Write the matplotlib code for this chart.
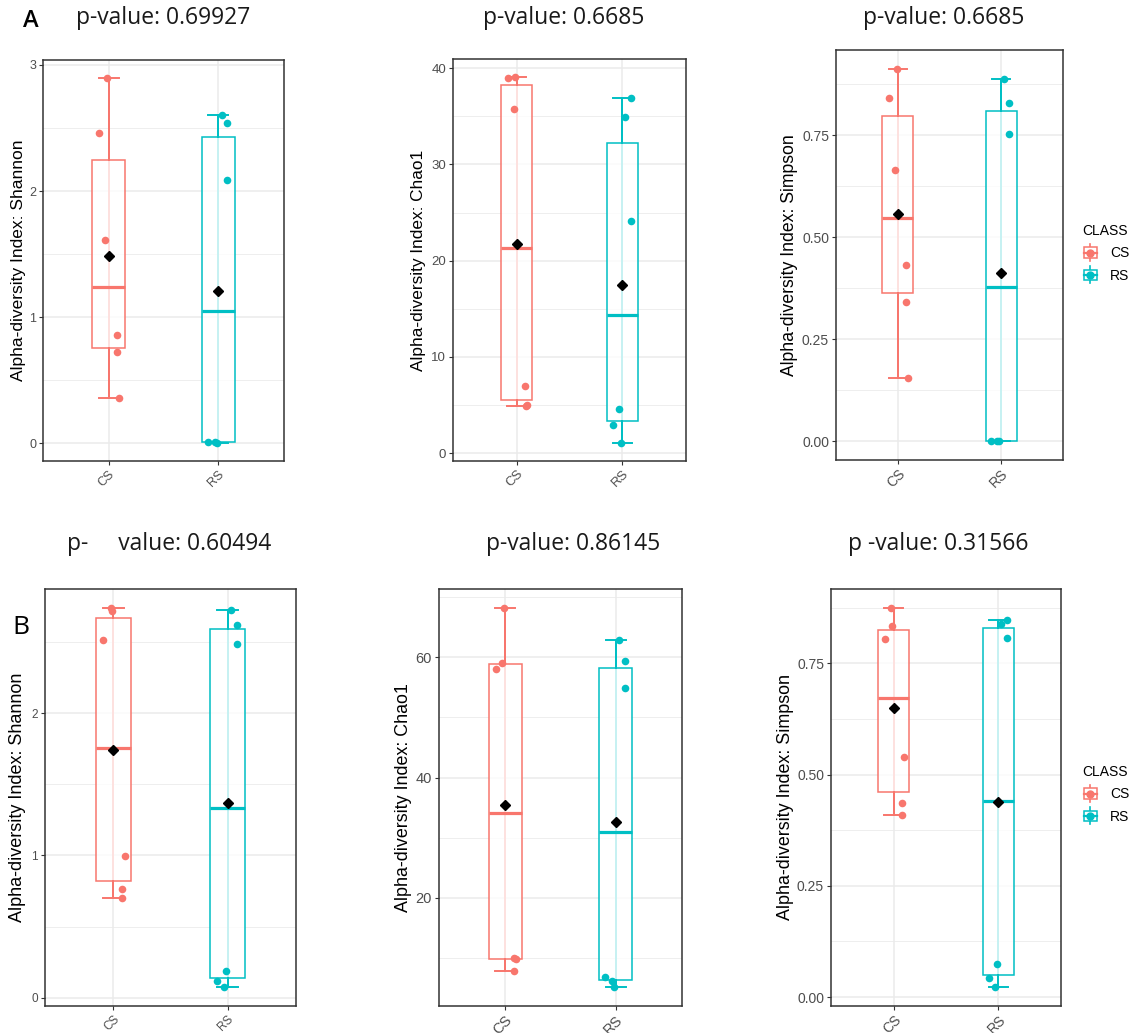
import numpy as np
import matplotlib.pyplot as plt
from matplotlib import cbook
from matplotlib.legend_handler import HandlerBase
from matplotlib.patches import Rectangle
from matplotlib.lines import Line2D

plt.rcParams['font.family'] = ['Liberation Sans', 'DejaVu Sans']

groups = ["CS", "RS"]
colors = ["#F8766D", "#00BFC4"]

# ---- data ----
# panel A
shannon_a = [[2.895, 2.46, 1.613, 0.861, 0.72, 0.362],
             [2.605, 2.54, 2.088, 0.010, 0.012, 0.003]]
shannon_a_jit = [[-0.016, -0.092, -0.031, 0.076, 0.076, 0.098],
                 [0.031, 0.083, 0.083, -0.092, -0.030, -0.012]]
chao1_a = [[39.02, 39.06, 35.79, 6.95, 4.90, 5.00],
           [36.88, 34.95, 24.17, 4.60, 2.95, 1.09]]
chao1_a_jit = [[-0.085, -0.013, -0.025, 0.078, 0.088, 0.100],
               [0.082, 0.028, 0.082, -0.034, -0.091, -0.013]]
simpson_a = [[0.9125, 0.8415, 0.6636, 0.431, 0.3412, 0.155],
             [0.888, 0.8284, 0.7525, 0.0016, 0.0016, 0.0]]
simpson_a_jit = [[-0.013, -0.084, -0.026, 0.081, 0.077, 0.100],
                 [0.026, 0.081, 0.081, -0.094, -0.035, -0.016]]

# panel B
shannon_b = [[2.738, 2.72, 2.515, 0.993, 0.761, 0.700],
             [2.721, 2.620, 2.487, 0.185, 0.119, 0.075]]
shannon_b_jit = [[-0.020, -0.010, -0.088, 0.100, 0.076, 0.076],
                 [0.026, 0.082, 0.082, -0.012, -0.091, -0.032]]
chao1_b = [[68.19, 58.12, 59.12, 9.93, 9.75, 7.88],
           [62.88, 59.39, 54.85, 6.89, 6.22, 5.17]]
chao1_b_jit = [[-0.015, -0.088, -0.027, 0.076, 0.094, 0.079],
               [0.030, 0.082, 0.082, -0.094, -0.030, -0.012]]
simpson_b = [[0.8746, 0.8333, 0.804, 0.540, 0.4358, 0.4088],
             [0.8476, 0.8386, 0.8063, 0.0743, 0.042, 0.0225]]
simpson_b_jit = [[-0.022, -0.013, -0.086, 0.099, 0.080, 0.080],
                 [0.086, 0.022, 0.086, -0.010, -0.086, -0.029]]

titles = ["p-value: 0.69927", "p-value: 0.6685", "p-value: 0.6685",
          "p-     value: 0.60494", "p-value: 0.86145", "p -value: 0.31566"]

W, H = 1137, 1033
fig = plt.figure(figsize=(W / 100, H / 100), dpi=100)


def px_axes(l, t, r, b):
    return fig.add_axes([l / W, 1 - b / H, (r - l) / W, (b - t) / H])


class BoxKey(HandlerBase):
    def create_artists(self, legend, orig_handle, xdescent, ydescent,
                       width, height, fontsize, trans):
        c = orig_handle.get_color()
        cx = -xdescent + width / 2
        cy = -ydescent + height / 2
        w, h = width * 0.8, height * 0.85
        vl = Line2D([cx, cx], [cy - h * 0.8, cy + h * 0.8], color=c, lw=1.2)
        rect = Rectangle((cx - w / 2, cy - h / 2), w, h, facecolor='white',
                         edgecolor=c, lw=1.1)
        hl = Line2D([cx - w / 2, cx + w / 2], [cy, cy], color=c, lw=1.6)
        dot = Line2D([cx], [cy], marker='o', ms=5, color=c, lw=0)
        arts = [vl, rect, hl, dot]
        for a in arts:
            a.set_transform(trans)
        return arts


def draw_panel(ax, values, jitter, ylabel, yticks, minor, fmt,
               tick_fs, lab_fs, lab_x):
    allv = np.concatenate([np.array(v) for v in values])
    for i, g in enumerate(groups):
        pos = i + 1
        v = np.array(values[i])
        c = colors[i]
        st = cbook.boxplot_stats(v, whis=1.5)[0]
        ax.vlines(pos, st['whislo'], st['whishi'], color=c, lw=1.4, zorder=2)
        ax.bxp([st], positions=[pos], widths=0.3, capwidths=0.18,
               showfliers=False, patch_artist=True, zorder=3,
               boxprops=dict(facecolor=(1, 1, 1, 0.78), edgecolor=c, lw=1.1),
               medianprops=dict(color=c, lw=2.3, solid_capstyle='butt'),
               whiskerprops=dict(color=c, lw=1.4),
               capprops=dict(color=c, lw=1.4))
        ax.scatter(pos + np.array(jitter[i]), v, s=30, color=c, lw=0, zorder=4)
        ax.plot(pos, v.mean(), marker='D', ms=5.6, color='black', zorder=5)
    lo, hi = allv.min(), allv.max()
    pad = 0.05 * (hi - lo)
    ax.set_ylim(lo - pad, hi + pad)
    ax.set_xlim(0.4, 2.6)
    ax.set_xticks([1, 2])
    ax.set_xticklabels(groups, rotation=45, ha='right', rotation_mode='anchor',
                       fontsize=tick_fs, color='#4D4D4D')
    ax.set_yticks(yticks)
    ax.set_yticklabels([fmt.format(t) for t in yticks], fontsize=tick_fs,
                       color='#4D4D4D')
    ax.set_yticks(minor, minor=True)
    ax.tick_params(which='major', length=3, width=0.8, color='#333333', pad=2)
    ax.tick_params(which='minor', length=0)
    ax.set_axisbelow(True)
    ax.grid(which='major', color='#EBEBEB', lw=1.1)
    ax.grid(which='minor', axis='y', color='#EBEBEB', lw=0.6)
    for s in ax.spines.values():
        s.set_color('#333333')
        s.set_linewidth(1.1)
    ax.set_ylabel(ylabel, fontsize=lab_fs, va='center')
    l, r = ax.get_position().x0 * W, ax.get_position().x1 * W
    ax.yaxis.set_label_coords((lab_x - l) / (r - l), 0.5)


panels = [
    ((43, 60, 284, 461), shannon_a, shannon_a_jit, "Alpha-diversity Index: Shannon",
     [0, 1, 2, 3], [0.5, 1.5, 2.5], "{:g}", 9, 12.5, 19),
    ((453, 59, 686, 461), chao1_a, chao1_a_jit, "Alpha-diversity Index: Chao1",
     [0, 10, 20, 30, 40], [5, 15, 25, 35], "{:g}", 9.5, 12.4, 419),
    ((836, 50, 1063, 460), simpson_a, simpson_a_jit, "Alpha-diversity Index: Simpson",
     [0, 0.25, 0.5, 0.75], [0.125, 0.375, 0.625, 0.875], "{:.2f}", 10, 12.7, 790),
    ((45, 589, 296, 1006), shannon_b, shannon_b_jit, "Alpha-diversity Index: Shannon",
     [0, 1, 2], [0.5, 1.5, 2.5], "{:g}", 8.5, 13, 18),
    ((439, 589, 682, 1006), chao1_b, chao1_b_jit, "Alpha-diversity Index: Chao1",
     [20, 40, 60], [10, 30, 50, 70], "{:g}", 10.5, 12.9, 404),
    ((831, 589, 1061, 1006), simpson_b, simpson_b_jit, "Alpha-diversity Index: Simpson",
     [0, 0.25, 0.5, 0.75], [0.125, 0.375, 0.625, 0.875], "{:.2f}", 10, 12.9, 785),
]

axes = []
for box, vals, jit, lab, yt, mn, fmt, tfs, lfs, lx in panels:
    ax = px_axes(*box)
    draw_panel(ax, vals, jit, lab, yt, mn, fmt, tfs, lfs, lx)
    axes.append(ax)

# titles and panel letters
title_pos = [(163, 18), (564, 18), (944, 18), (169, 544), (573, 544), (938, 544)]
for t, (x, y) in zip(titles, title_pos):
    fig.text(x / W, 1 - y / H, t, ha='center', va='center', fontsize=16.5,
             family='Open Sans', color='#1a1a1a')
fig.text(31 / W, 1 - 21 / H, "A", ha='center', va='center', fontsize=17,
         family='Open Sans', fontweight='semibold')
fig.text(21 / W, 1 - 628 / H, "B", ha='center', va='center', fontsize=19,
         family='Open Sans')

# legends
handles = [Line2D([], [], color=c) for c in colors]
for ax, top in [(axes[2], 224), (axes[5], 765)]:
    leg = fig.legend(handles, groups, title="CLASS", loc='upper left',
                     bbox_to_anchor=(1082 / W, 1 - top / H), frameon=False,
                     fontsize=10, title_fontsize=10, borderpad=0,
                     borderaxespad=0, handlelength=1.2, handleheight=1.0,
                     handletextpad=0.8, labelspacing=0.6,
                     handler_map={Line2D: BoxKey()})
    leg._legend_box.align = 'left'

fig.savefig("out.png", dpi=100)
